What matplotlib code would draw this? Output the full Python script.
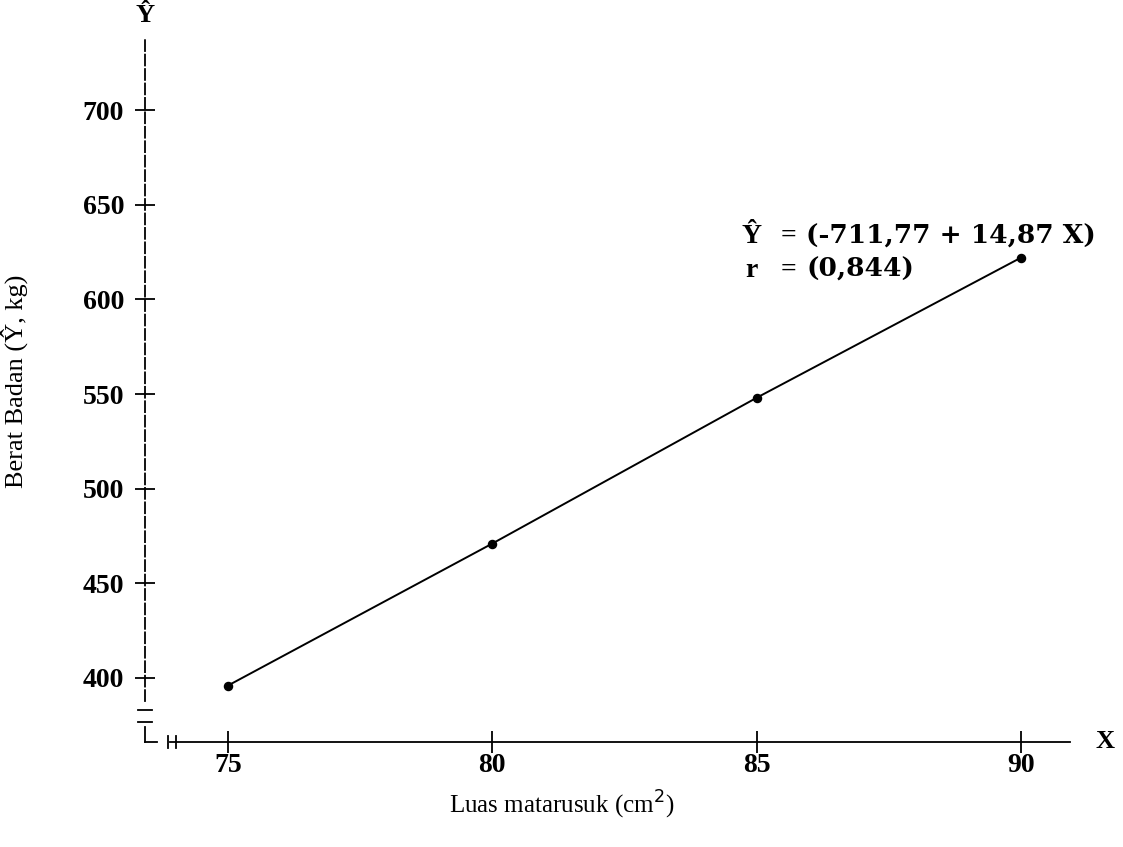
import matplotlib.pyplot as plt

# data
luas = [75, 80, 85, 90]
berat = [396, 471, 548, 622]
x_ticks = [75, 80, 85, 90]
y_ticks = [400, 450, 500, 550, 600, 650, 700]
persamaan = "(-711,77 + 14,87 X)"
korelasi = "(0,844)"

plt.rcParams['font.family'] = ['Liberation Serif', 'DejaVu Serif']

fig = plt.figure(figsize=(11.23, 8.47), dpi=100)
ax = fig.add_axes([0.1291, 0.124, 0.828, 0.8288])
ax.set_xlim(73.43, 91.02)
ax.set_ylim(366.2, 737)

# garis regresi dan titik
ax.plot(luas, berat, color='black', lw=1.4)
ax.scatter(luas, berat, color='black', s=34, zorder=3)

# sumbu
for s in ['top', 'right']:
    ax.spines[s].set_visible(False)
ax.spines['left'].set_bounds(388, 737)
ax.spines['left'].set_linestyle((0, (6, 2)))
ax.spines['left'].set_linewidth(1.3)
ax.spines['bottom'].set_bounds(73.9, 90.93)
ax.spines['bottom'].set_linewidth(1.3)

# patahan sumbu
kw = dict(color='black', lw=1.3, clip_on=False)
ax.plot([73.3, 73.56], [383, 383], **kw)
ax.plot([73.3, 73.56], [377, 377], **kw)
ax.plot([73.43, 73.43], [374, 366.2], **kw)
ax.plot([73.43, 73.65], [366.2, 366.2], **kw)
ax.plot([73.86, 73.86], [363, 369.5], **kw)
ax.plot([74.02, 74.02], [363, 369.5], **kw)

ax.set_xticks(x_ticks)
ax.set_yticks(y_ticks)
ax.tick_params(direction='inout', length=14, width=1.3, labelsize=20, pad=8)
ax.tick_params(axis='x', length=16, pad=0)
for lab in ax.get_xticklabels() + ax.get_yticklabels():
    lab.set_fontweight('bold')

fig.text(0.992, 0.124, "X", ha='right', va='center', fontsize=19, fontweight='bold')
fig.text(0.1291, 0.982, "Ŷ", ha='center', va='center', fontsize=19, fontweight='bold')

# persamaan regresi
eq = dict(fontsize=20, va='baseline', fontweight='bold')
fig.text(0.66, 0.713, "Ŷ", **eq)
fig.text(0.695, 0.713, "=", **eq)
fig.text(0.718, 0.713, persamaan, family='DejaVu Serif', fontsize=19,
         fontweight='bold', va='baseline')
fig.text(0.664, 0.673, "r", **eq)
fig.text(0.695, 0.673, "=", **eq)
fig.text(0.718, 0.673, korelasi, family='DejaVu Serif', fontsize=19,
         fontweight='bold', va='baseline')

fig.text(0.5, 0.05, "Luas matarusuk (cm$^2$)", ha='center', va='center', fontsize=18)
fig.text(0.013, 0.55, "Berat Badan (Ŷ, kg)", rotation=90, ha='center', va='center', fontsize=19)

plt.savefig('out.png', dpi=100)
